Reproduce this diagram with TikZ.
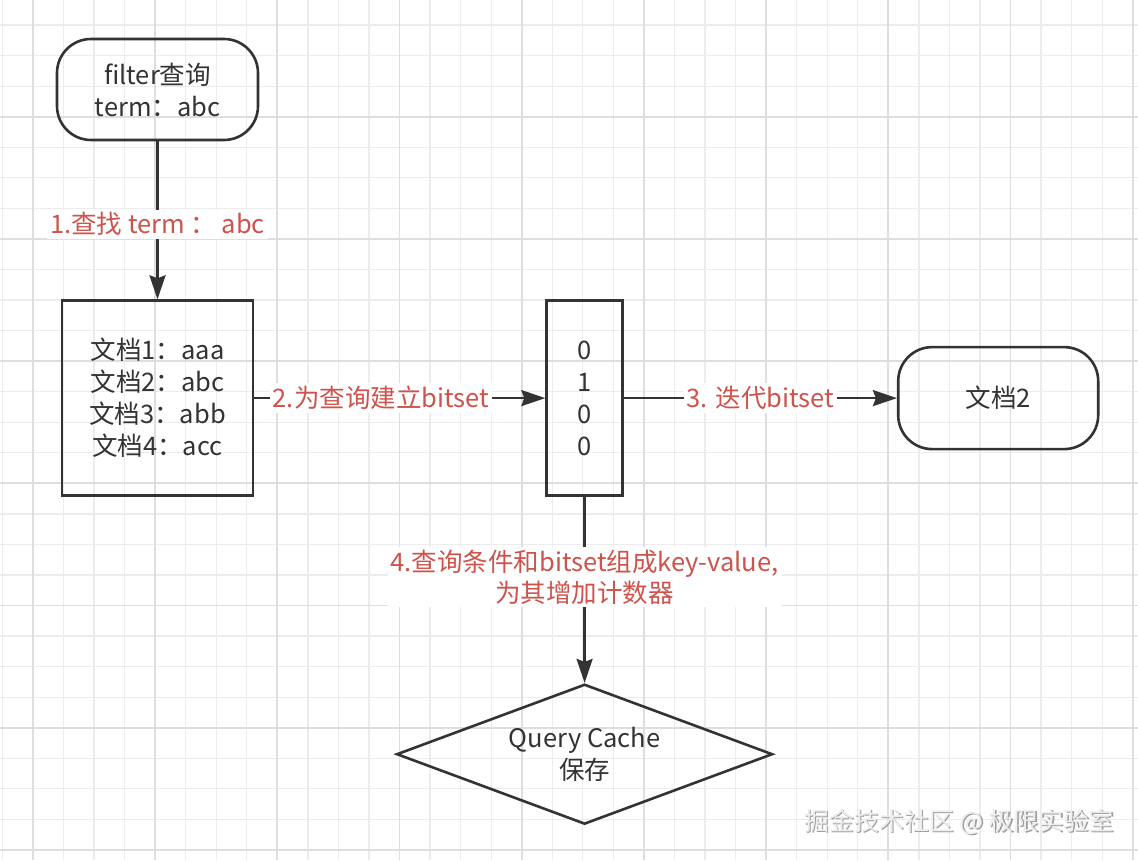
\documentclass[tikz,border=0pt]{standalone}
\usepackage{fontspec}
\setmainfont{Noto Sans CJK SC}
\usetikzlibrary{shapes.geometric, arrows.meta, positioning, shapes, backgrounds}
\definecolor{ink}{RGB}{51,51,51}
\definecolor{hilight}{RGB}{205,83,76}
\definecolor{gridminor}{RGB}{236,236,236}
\definecolor{gridmajor}{RGB}{222,222,222}

\begin{document}
\begin{tikzpicture}[x=1pt, y=1pt]
		% Define elements
		\tikzstyle{line} = [draw=ink, line width=2.6pt, -{Stealth[length=24pt, width=16pt, inset=3pt]}]
		\tikzstyle{block} = [rectangle, draw=ink, line width=2.6pt, text=ink,
		    align=center, inner sep=0pt, font=\fontsize{25.5}{32}\selectfont]
		\tikzstyle{terminal} = [block, rounded corners=34pt]
		\tikzstyle{decision} = [block, diamond, shape aspect=2.7, minimum width=376pt, minimum height=140pt]
		\tikzstyle{steplabel} = [fill=white, text=hilight, align=center, inner sep=3pt, font=\fontsize{25.5}{31}\selectfont]
		\tikzstyle{watermark} = [font=\fontsize{25}{25}\selectfont]
		\useasboundingbox (0,0) rectangle (1138,-860);
		%% Grid
		\fill[white] (0,0) rectangle (1138,-860);
		\foreach \i in {0,...,37}
		    \draw[gridminor, line width=1.3pt] ({2.35+30.55*\i},0) -- ({2.35+30.55*\i},-860);
		\foreach \i in {0,...,27}
		    \draw[gridminor, line width=1.3pt] (0,{-25.05-30.55*\i}) -- (1138,{-25.05-30.55*\i});
		\foreach \i in {1,5,...,37}
		    \draw[gridmajor, line width=1.8pt] ({2.35+30.55*\i},0) -- ({2.35+30.55*\i},-860);
		\foreach \i in {3,7,...,27}
		    \draw[gridmajor, line width=1.8pt] (0,{-25.05-30.55*\i}) -- (1138,{-25.05-30.55*\i});

		%% Query and documents
		\node [name = query, terminal, minimum width=201pt, minimum height=101pt] at (157.5,-89.5) {filter查询\\term：abc};
		\node [name = docs, block, minimum width=191pt, minimum height=195pt,
			below=158pt of query] {文档1：aaa\\文档2：abc\\文档3：abb\\文档4：acc};

		%% Bitset
		\node [name = bits, block, minimum width=76pt, minimum height=195pt, right=291pt of docs] {0\\1\\0\\0};
		\node [name = hit, terminal, minimum width=200pt, minimum height=102pt, right=273pt of bits] {文档2};

		%% Cache
		\node [name = cache, decision, below=186pt of bits] {Query Cache\\保存};

		\node [name = markshadow, watermark, text=gray!75] at (960.5,-823.5) {掘金技术社区 @ 极限实验室};
		\node [name = mark, watermark, text=white!93!black] at (959,-822) {掘金技术社区 @ 极限实验室};
	% arrows
		\path [line] (query) -- node[steplabel, pos=0.525] {1.查找 term ： abc} (docs);
		\path [line] (docs) -- node[steplabel, pos=0.435] {2.为查询建立bitset} (bits);
		\path [line] (bits) -- node[steplabel] {3. 迭代bitset} (hit);
		\path [line] (bits) -- node[steplabel, pos=0.43] {4.查询条件和bitset组成key-value,\\为其增加计数器} (cache);
	\end{tikzpicture}
\end{document}
